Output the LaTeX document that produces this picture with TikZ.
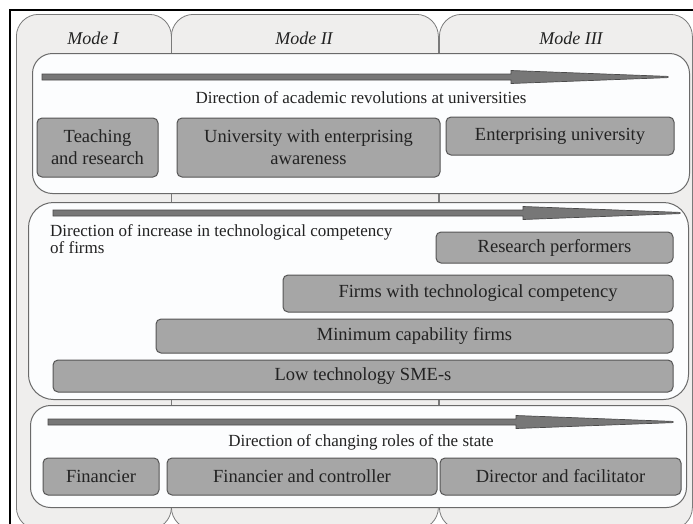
\documentclass[tikz,border=0pt]{standalone}
\usepackage{fontspec}
\setmainfont{Liberation Serif}
\definecolor{colfill}{HTML}{EFEEED}
\definecolor{colline}{HTML}{7A7A7A}
\definecolor{panelfill}{HTML}{FCFDFE}
\definecolor{panelline}{HTML}{6A6A6A}
\definecolor{boxfill}{HTML}{A6A6A6}
\definecolor{boxline}{HTML}{555555}
\definecolor{arrfill}{HTML}{777777}
\definecolor{arrline}{HTML}{4A4A4A}
\definecolor{txt}{HTML}{222222}
\newcommand\dirarrow[5]{% name, y, x0, xh, x1
  \coordinate (#1s) at (#3,#2);
  \coordinate (#1e) at (#5,#2);
  \fill[arrfill,draw=arrline,line width=0.7pt]
    (#3,#2-3) -- (#4,#2-3) -- (#4,#2-6.5) -- (#5,#2-0.6) -- (#5,#2+0.6) -- (#4,#2+6.5) -- (#4,#2+3) -- (#3,#2+3) -- cycle;}
\begin{document}
\begin{tikzpicture}[x=1pt,y=-1pt,
  col/.style={draw=colline,fill=colfill,line width=0.8pt,rounded corners=22pt,anchor=north west,inner sep=0pt},
  panel/.style={draw=panelline,fill=panelfill,line width=1pt,rounded corners=20pt,anchor=north west,inner sep=0pt},
  box/.style={draw=boxline,fill=boxfill,line width=1pt,rounded corners=5pt,inner sep=0pt,align=center,text=txt,font=\fontsize{18.5}{22}\selectfont},
  dirtext/.style={text=txt,inner sep=0pt,font=\fontsize{17}{17}\selectfont},
  modelabel/.style={text=txt,inner sep=0pt,font=\fontsize{18}{20}\selectfont\itshape}]
\useasboundingbox (0,0) rectangle (693,523);
\clip (0,0) rectangle (693,523);
% outer frame
\draw[line width=2pt] (10,540) -- (10,10) -- (710,10);
% mode columns
\node[col,minimum width=155pt,minimum height=515pt] (colI) at (16,14) {};
\node[col,minimum width=267pt,minimum height=515pt] (colII) at (171,14) {};
\node[col,minimum width=253pt,minimum height=515pt] (colIII) at (439,14) {};
\node[modelabel] (mI) at (93,38.5) {Mode I};
\node[modelabel] (mII) at (304,38.5) {Mode II};
\node[modelabel] (mIII) at (571,38.5) {Mode III};
% panels
\node[panel,minimum width=657pt,minimum height=140pt] (p1) at (32,53) {};
\node[panel,minimum width=660pt,minimum height=197pt,rounded corners=25pt] (p2) at (28,202) {};
\node[panel,minimum width=656pt,minimum height=102pt] (p3) at (30,405) {};
% panel 1
\dirarrow{a1}{77}{42}{511}{668}
\node[dirtext] (d1) at (361,98) {Direction of academic revolutions at universities};
\node[box,minimum width=121pt,minimum height=59pt] (teach) at (97.5,147.5) {Teaching\\and research};
\node[box,minimum width=263pt,minimum height=59pt] (uniaw) at (308.5,147.5) {University with enterprising\\awareness};
\node[box,minimum width=228pt,minimum height=38pt] (entu) at (560,136) {Enterprising university};
% panel 2
\dirarrow{a2}{213}{53}{523}{680}
\node[dirtext,align=left,anchor=north west] (d2) at (50,224.4) {Direction of increase in technological competency\\of firms};
\node[box,minimum width=237pt,minimum height=31pt] (resp) at (554.5,247.5) {Research performers};
\node[box,minimum width=390pt,minimum height=37pt] (firmtc) at (478,293.5) {Firms with technological competency};
\node[box,minimum width=517pt,minimum height=34pt] (mincap) at (414.5,336) {Minimum capability firms};
\node[box,minimum width=620pt,minimum height=32pt] (lowtech) at (363,376) {Low technology SME-s};
% panel 3
\dirarrow{a3}{422}{48}{516}{673}
\node[dirtext,anchor=base] (d3) at (361,446) {Direction of changing roles of the state};
\node[box,minimum width=116pt,minimum height=37pt] (fin) at (101,476.5) {Financier};
\node[box,minimum width=270pt,minimum height=37pt] (fincon) at (302,476.5) {Financier and controller};
\node[box,minimum width=241pt,minimum height=37pt] (dirfac) at (560.5,476.5) {Director and facilitator};
\end{tikzpicture}
\end{document}
